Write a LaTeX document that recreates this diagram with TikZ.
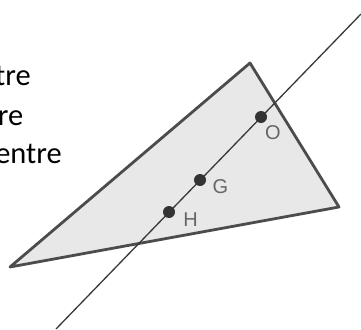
\documentclass[tikz,border=0pt]{standalone}
\usepackage{fontspec}
\setmainfont{Carlito}
\newfontfamily\labelfont{Liberation Sans}
\begin{document}
\begin{tikzpicture}[x=1pt,y=-1pt,
  pt/.style={circle,fill=black!80,inner sep=0pt,minimum size=12pt},
  lbl/.style={font=\labelfont\fontsize{20}{20}\selectfont,text=black!60,inner sep=0pt},
  side/.style={font=\fontsize{30.5}{36}\selectfont,text=black,inner sep=0pt}]
\useasboundingbox (0,0) rectangle (361,329);
\clip (0,0) rectangle (361,329);
% triangle
\coordinate (A) at (250,63);
\coordinate (B) at (339,207);
\coordinate (C) at (10,267);
\filldraw[fill=black!9,draw=black!70,line width=2.8pt,line join=round] (A) -- (B) -- (C) -- cycle;
% Euler line
\coordinate (L1) at (56,329);
\coordinate (L2) at (361,14);
\draw[black!78,line width=1.3pt] (L1) -- (L2);
% points
\node[pt] (O) at (261,117) {};
\node[pt] (G) at (200,180) {};
\node[pt] (H) at (169,212) {};
\node[lbl] (lO) at (273,133) {O};
\node[lbl] (lG) at (220.5,187) {G};
\node[lbl] (lH) at (190.5,219.5) {H};
% text clipped at the left edge, as in the reference
\node[side,anchor=base east] (t1) at (31,85) {tre};
\node[side,anchor=base east] (t2) at (23.5,125) {re};
\node[side,anchor=base east] (t3) at (62,163.5) {entre};
\end{tikzpicture}
\end{document}
